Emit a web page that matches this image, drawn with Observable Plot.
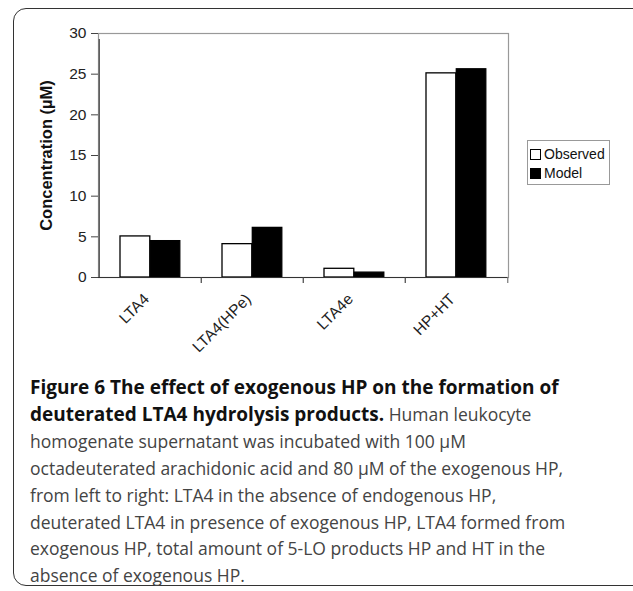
<!DOCTYPE html>
<html><head><meta charset="utf-8">
<script src="https://cdn.jsdelivr.net/npm/d3@7"></script>
<script src="https://cdn.jsdelivr.net/npm/@observablehq/plot@0.6"></script>
<style>
html,body{margin:0;padding:0;background:#fff}
body{width:633px;height:591px;overflow:hidden;position:relative;font-family:"Liberation Sans",Arial,sans-serif}
#border{position:absolute;left:13px;top:8px;width:700px;height:578px;border:1.5px solid #333;border-radius:13px;box-sizing:border-box}
#chart{position:absolute;left:0;top:0;width:633px}
#legend{position:absolute;left:527px;top:140px;width:83px;height:45px;border:1.5px solid #999;box-sizing:border-box;font-size:14px;color:#111;background:#fff}
#legend .row{position:absolute;left:2px;height:16px;line-height:16px;white-space:nowrap}
#legend .sw{display:inline-block;width:9px;height:9px;border:1.2px solid #000;margin-right:3px;vertical-align:-1px}
#caption{position:absolute;left:30px;top:374px;font-family:"Open Sans",sans-serif;font-size:17.5px;line-height:26.9px;color:#444;white-space:nowrap}
#caption b{color:#111;font-weight:700;font-size:19px}
</style>
</head><body>
<div id="border"></div>
<div id="chart"></div>
<div id="legend"></div>
<div id="caption"></div>
<script>
const categories = ["LTA4", "LTA4(HPe)", "LTA4e", "HP+HT"];
const seriesNames = ["Observed", "Model"];
const observed = [5.05, 4.1, 1.07, 25.1];
const model = [4.47, 6.1, 0.6, 25.6];
const yTicks = [0, 5, 10, 15, 20, 25, 30];
const yLabel = "Concentration (µM)";
const captionBold = ["Figure 6 The effect of exogenous HP on the formation of", "deuterated LTA4 hydrolysis products."];
const captionLines = [
  " Human leukocyte",
  "homogenate supernatant was incubated with 100 µM",
  "octadeuterated arachidonic acid and 80 µM of the exogenous HP,",
  "from left to right: LTA4 in the absence of endogenous HP,",
  "deuterated LTA4 in presence of exogenous HP, LTA4 formed from",
  "exogenous HP, total amount of 5-LO products HP and HT in the",
  "absence of exogenous HP."
];

const obsData = categories.map((c, i) => ({category: c, series: seriesNames[0], value: observed[i]}));
const modData = categories.map((c, i) => ({category: c, series: seriesNames[1], value: model[i]}));

const W = 633, H = 370, ML = 98, MR = 125, MT = 33, MB = 93;
const bw = (W - ML - MR) / categories.length;
const FONT = "'Liberation Sans', Arial, sans-serif";

const chart = Plot.plot({
  width: W, height: H,
  marginLeft: ML, marginRight: MR, marginTop: MT, marginBottom: MB,
  style: {fontFamily: FONT, fontSize: "15.5px", color: "#222", background: "transparent"},
  x: {domain: categories, padding: 0},
  y: {domain: [0, 30]},
  marks: [
    Plot.frame({stroke: "#999", strokeWidth: 1.2}),
    Plot.axisY({ticks: yTicks, tickSize: 7, tickPadding: 5, fontSize: 15.5, stroke: "#444", fill: "#222", label: null}),
    Plot.axisY({ticks: [], tickSize: 0, fontSize: 16.5, fill: "#111",
      label: yLabel, labelAnchor: "center", labelOffset: 58, labelArrow: "none"}),
    Plot.axisX({tickSize: 0, tickRotate: -45, tickPadding: 19, fontSize: 15.5, fill: "#222", label: null, dx: -4}),
    Plot.barY(obsData, {x: "category", y: "value", fill: "white", stroke: "black", strokeWidth: 1.3, insetLeft: 21, insetRight: bw - 51.3}),
    Plot.barY(modData, {x: "category", y: "value", fill: "black", stroke: "black", strokeWidth: 1.3, insetLeft: 51.3, insetRight: bw - 81.3}),
    Plot.ruleY([0], {stroke: "#333", strokeWidth: 1.2}),
    Plot.ruleX(categories, {x: d => d, y1: () => 0, y2: (d, i) => i === 0 ? 30 : 0, dx: -bw / 2, insetBottom: -6, stroke: "#444", strokeWidth: 1.2}),
    Plot.ruleX(categories.slice(-1), {x: d => d, y1: () => 0, y2: () => 0, dx: bw / 2, insetBottom: -6, stroke: "#777", strokeWidth: 1.2})
  ]
});
chart.querySelectorAll("g[aria-label='y-axis label'] text").forEach(t => { t.setAttribute("font-weight", "bold"); t.setAttribute("fill", "#111"); });
document.getElementById("chart").appendChild(chart);

const legend = document.getElementById("legend");
const fills = ["#fff", "#000"];
seriesNames.forEach((s, i) => {
  const r = document.createElement("div");
  r.className = "row";
  r.style.top = (5 + i * 19) + "px";
  const sw = document.createElement("span");
  sw.className = "sw";
  sw.style.background = fills[i];
  r.appendChild(sw);
  r.appendChild(document.createTextNode(s));
  legend.appendChild(r);
});

const cap = document.getElementById("caption");
const l1 = document.createElement("div");
const b1 = document.createElement("b"); b1.textContent = captionBold[0];
l1.appendChild(b1);
cap.appendChild(l1);
const l2 = document.createElement("div");
const b2 = document.createElement("b"); b2.textContent = captionBold[1];
l2.appendChild(b2); l2.appendChild(document.createTextNode(captionLines[0]));
cap.appendChild(l2);
captionLines.slice(1).forEach(t => { const d = document.createElement("div"); d.textContent = t; cap.appendChild(d); });
</script>
</body></html>
